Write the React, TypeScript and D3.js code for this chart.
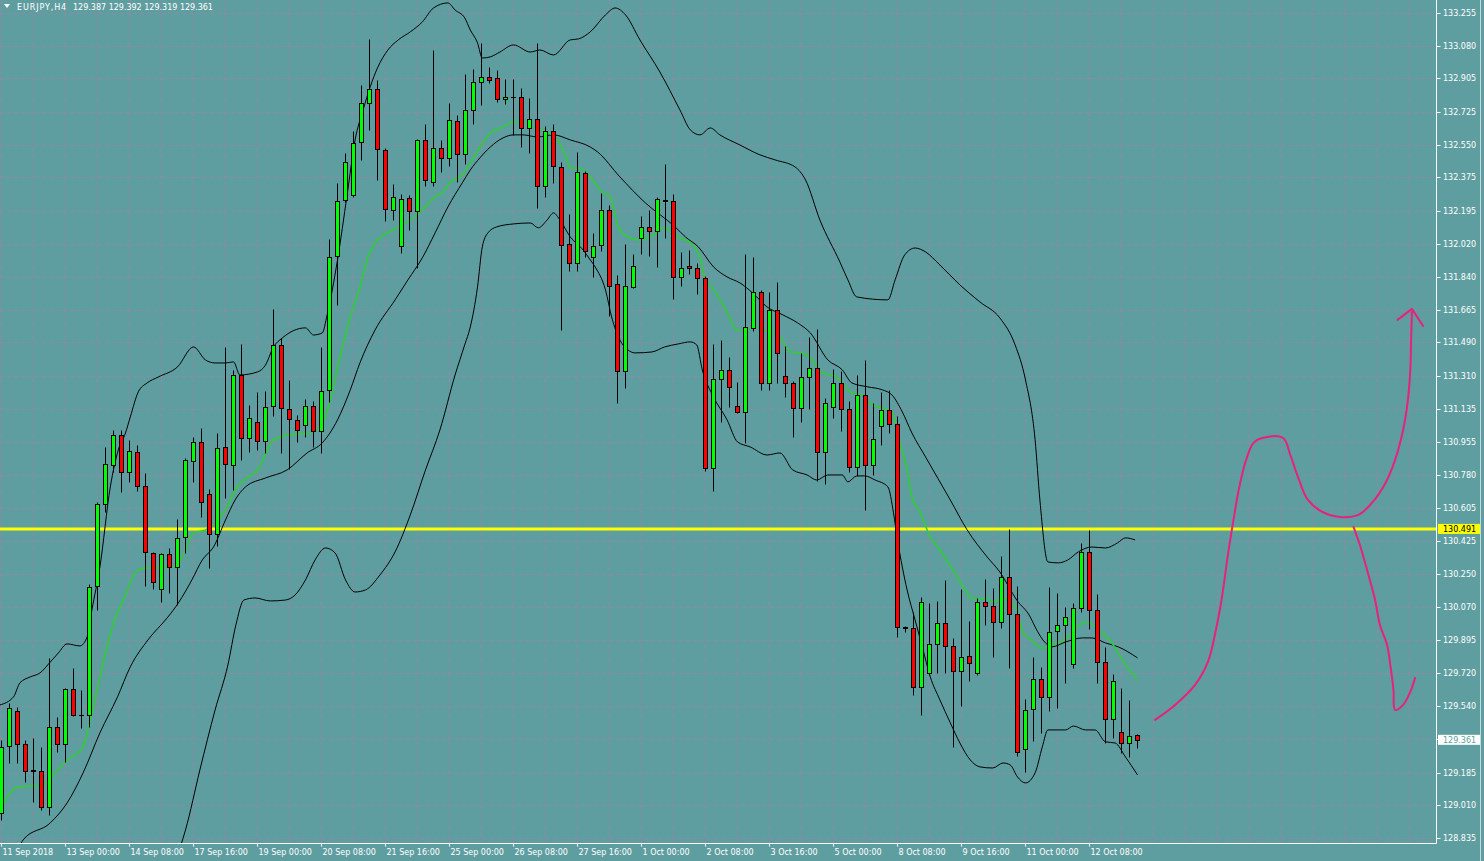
import React from 'react';
import * as d3 from 'd3';

const W = 1484;
const H = 861;
const PLOT_R = 1436.5;
const PLOT_B = 843.5;

const symbolLabel = 'EURJPY,H4';
const headerValues = '129.387 129.392 129.319 129.361';

const priceTicks = [133.255, 133.080, 132.905, 132.725, 132.550, 132.375, 132.195, 132.020, 131.840, 131.665, 131.490, 131.310, 131.135, 130.955, 130.780, 130.605, 130.425, 130.250, 130.070, 129.895, 129.720, 129.540, 129.365, 129.185, 129.010, 128.835];

const dateLabels = ['11 Sep 2018', '13 Sep 00:00', '14 Sep 08:00', '17 Sep 16:00', '19 Sep 00:00', '20 Sep 08:00', '21 Sep 16:00', '25 Sep 00:00', '26 Sep 08:00', '27 Sep 16:00', '1 Oct 00:00', '2 Oct 08:00', '3 Oct 16:00', '5 Oct 00:00', '8 Oct 08:00', '9 Oct 16:00', '11 Oct 00:00', '12 Oct 08:00'];
const dateLabelBars = [0, 8, 16, 24, 32, 40, 48, 56, 64, 72, 80, 88, 96, 104, 112, 120, 128, 136];

const open = [128.969, 129.328, 129.516, 129.339, 129.200, 129.195, 129.001, 129.430, 129.339, 129.634, 129.494, 129.494, 130.185, 130.625, 130.834, 130.994, 130.796, 130.903, 130.721, 130.362, 130.169, 130.357, 130.287, 130.448, 130.855, 130.957, 130.678, 130.464, 130.930, 130.834, 131.316, 130.978, 131.064, 130.962, 131.150, 131.477, 131.134, 131.075, 131.048, 131.150, 131.016, 131.236, 131.954, 132.253, 132.280, 132.564, 132.773, 132.848, 132.521, 132.200, 132.007, 132.264, 132.195, 132.575, 132.350, 132.532, 132.478, 132.677, 132.500, 132.736, 132.886, 132.912, 132.907, 132.795, 132.805, 132.805, 132.639, 132.687, 132.328, 132.623, 132.430, 132.018, 131.916, 132.398, 131.948, 132.012, 132.200, 131.803, 131.337, 131.787, 132.050, 132.109, 132.087, 132.251, 132.248, 131.841, 131.900, 131.889, 131.836, 130.818, 131.294, 131.343, 131.150, 131.118, 131.568, 131.761, 131.273, 131.664, 131.311, 131.273, 131.139, 131.305, 131.353, 130.903, 131.144, 131.273, 131.134, 130.823, 131.209, 130.834, 131.043, 131.128, 131.053, 129.968, 129.960, 129.644, 129.719, 129.875, 129.987, 129.864, 129.730, 129.810, 129.719, 130.100, 130.078, 129.993, 130.234, 130.035, 129.312, 129.527, 129.687, 129.591, 129.944, 129.977, 129.767, 130.068, 130.367, 130.057, 129.778, 129.473, 129.403, 129.344, 129.387];
const high = [129.360, 129.559, 129.537, 129.360, 129.371, 129.323, 129.800, 129.483, 129.639, 129.746, 129.628, 130.196, 130.635, 130.930, 131.021, 131.021, 130.968, 130.941, 130.791, 130.367, 130.362, 130.389, 130.545, 130.871, 130.984, 131.032, 130.705, 131.005, 131.466, 131.343, 131.482, 131.155, 131.225, 131.230, 131.670, 131.514, 131.289, 131.102, 131.187, 131.177, 131.466, 132.045, 132.345, 132.505, 132.623, 132.870, 133.116, 132.896, 132.532, 132.339, 132.286, 132.280, 132.580, 132.661, 133.057, 132.575, 132.773, 132.709, 132.929, 132.955, 133.095, 132.966, 132.950, 132.902, 132.902, 132.853, 132.800, 133.095, 132.650, 132.661, 132.457, 132.178, 132.511, 132.409, 132.077, 132.291, 132.227, 131.852, 132.018, 131.964, 132.168, 132.200, 132.270, 132.446, 132.286, 131.975, 131.986, 131.916, 131.846, 131.482, 131.503, 131.412, 131.278, 131.964, 131.948, 131.771, 131.761, 131.814, 131.471, 131.284, 131.434, 131.519, 131.562, 131.193, 131.348, 131.337, 131.177, 131.316, 131.396, 131.166, 131.225, 131.236, 131.096, 129.971, 130.046, 130.126, 130.094, 130.105, 130.218, 129.907, 130.169, 129.998, 130.121, 130.223, 130.175, 130.346, 130.491, 130.185, 129.580, 129.805, 129.752, 130.180, 130.148, 130.073, 130.094, 130.416, 130.485, 130.143, 129.859, 129.714, 129.639, 129.575, 129.392];
const low = [128.932, 129.237, 129.237, 129.135, 129.028, 128.985, 128.958, 129.296, 129.242, 129.489, 129.425, 129.430, 130.057, 130.582, 130.796, 130.689, 130.743, 130.694, 130.185, 130.169, 130.100, 130.148, 130.084, 130.362, 130.743, 130.555, 130.282, 130.400, 130.657, 130.700, 130.861, 130.903, 130.914, 130.898, 131.096, 130.898, 130.812, 130.957, 130.984, 130.930, 130.898, 131.171, 131.691, 132.243, 132.270, 132.468, 132.629, 132.361, 132.141, 132.146, 131.970, 132.093, 131.889, 132.328, 132.328, 132.403, 132.436, 132.350, 132.446, 132.661, 132.762, 132.880, 132.778, 132.768, 132.602, 132.537, 132.505, 132.211, 132.270, 132.345, 131.557, 131.873, 131.873, 131.948, 131.841, 131.980, 131.632, 131.166, 131.246, 131.782, 131.964, 131.953, 131.894, 132.050, 131.723, 131.793, 131.857, 131.750, 130.802, 130.694, 131.064, 131.144, 131.112, 130.952, 131.552, 131.236, 131.236, 131.273, 131.198, 130.984, 131.064, 131.134, 130.748, 130.732, 131.086, 131.016, 130.796, 130.775, 130.593, 130.780, 130.941, 131.005, 129.912, 129.939, 129.601, 129.494, 129.709, 129.719, 129.719, 129.323, 129.543, 129.676, 129.709, 129.977, 129.805, 129.960, 129.746, 129.275, 129.189, 129.355, 129.398, 129.516, 129.532, 129.666, 129.746, 130.046, 129.955, 129.666, 129.344, 129.371, 129.291, 129.269, 129.319];
const close = [129.323, 129.532, 129.339, 129.195, 129.195, 129.001, 129.430, 129.339, 129.634, 129.494, 129.493, 130.180, 130.625, 130.840, 130.994, 130.796, 130.909, 130.721, 130.367, 130.207, 130.357, 130.287, 130.443, 130.861, 130.957, 130.635, 130.464, 130.925, 130.839, 131.316, 130.978, 131.086, 130.962, 131.144, 131.477, 131.139, 131.080, 131.021, 131.150, 131.016, 131.230, 131.948, 132.248, 132.457, 132.559, 132.773, 132.848, 132.527, 132.205, 132.270, 132.259, 132.195, 132.575, 132.361, 132.532, 132.478, 132.682, 132.500, 132.736, 132.886, 132.912, 132.896, 132.795, 132.805, 132.803, 132.639, 132.687, 132.328, 132.623, 132.436, 132.012, 131.916, 132.403, 131.980, 132.007, 132.200, 131.793, 131.337, 131.793, 131.900, 132.109, 132.087, 132.259, 132.248, 131.841, 131.889, 131.889, 131.836, 130.818, 131.294, 131.343, 131.252, 131.118, 131.573, 131.761, 131.273, 131.664, 131.434, 131.273, 131.139, 131.305, 131.353, 130.903, 131.166, 131.273, 131.134, 130.823, 131.209, 130.834, 130.973, 131.128, 131.053, 129.966, 129.959, 129.644, 130.100, 129.875, 129.987, 129.864, 129.730, 129.805, 129.773, 130.100, 130.078, 129.993, 130.234, 130.035, 129.296, 129.521, 129.687, 129.591, 129.939, 129.977, 130.019, 130.068, 130.367, 130.057, 129.778, 129.473, 129.676, 129.344, 129.382, 129.361];

const levelLine = 130.491;
const bidPrice = 129.361;

// [bar index, price]
const upperBand: [number, number][] = [[-0.2, 129.548], [1.5, 129.591], [2.3, 129.666], [3.6, 129.698], [4.8, 129.719], [6.1, 129.778], [7.1, 129.826], [8.2, 129.875], [9.8, 129.864], [10.7, 129.912], [11.3, 130.057], [12.3, 130.287], [13.6, 130.716], [14.6, 130.914], [15.5, 131.005], [16.1, 131.091], [17.1, 131.225], [18.2, 131.273], [19.6, 131.305], [22.0, 131.359], [24.0, 131.466], [25.5, 131.396], [26.7, 131.380], [28.0, 131.380], [29.0, 131.386], [29.8, 131.316], [32.0, 131.332], [33.0, 131.369], [34.0, 131.466], [35.1, 131.514], [38.0, 131.568], [39.0, 131.530], [40.1, 131.541], [40.7, 131.637], [42.0, 131.932], [43.2, 132.280], [44.2, 132.575], [45.2, 132.736], [47.0, 132.961], [48.3, 133.057], [49.6, 133.111], [51.1, 133.154], [52.6, 133.207], [54.0, 133.282], [55.8, 133.309], [56.7, 133.271], [57.9, 133.229], [58.6, 133.164], [59.5, 133.095], [60.1, 133.014], [61.1, 133.020], [62.3, 133.046], [64.0, 133.084], [66.1, 133.046], [67.3, 133.057], [69.0, 133.030], [71.1, 133.111], [72.1, 133.116], [73.6, 133.154], [75.5, 133.245], [76.7, 133.282], [78.0, 133.245], [79.8, 133.111], [82.3, 132.939], [84.8, 132.736], [86.1, 132.629], [87.3, 132.602], [88.6, 132.639], [89.8, 132.602], [92.3, 132.548], [94.8, 132.495], [96.7, 132.468], [99.2, 132.430], [100.5, 132.361], [102.3, 132.146], [104.8, 131.921], [105.8, 131.825], [106.9, 131.734], [110.8, 131.718], [111.7, 131.825], [112.9, 131.959], [114.2, 131.996], [115.5, 131.975], [117.3, 131.905], [119.8, 131.798], [122.3, 131.707], [124.8, 131.621], [126.7, 131.477], [128.0, 131.289], [129.2, 130.968], [129.8, 130.646], [130.8, 130.314], [132.1, 130.309], [133.3, 130.325], [134.6, 130.368], [136.3, 130.394], [138.0, 130.389], [139.5, 130.416], [140.5, 130.443], [141.7, 130.432]];

const middleBand: [number, number][] = [[1.7, 128.707], [2.7, 128.825], [6.1, 128.916], [8.2, 129.023], [10.2, 129.184], [12.3, 129.398], [14.5, 129.591], [16.1, 129.752], [18.3, 129.896], [20.8, 130.019], [22.1, 130.094], [23.8, 130.218], [25.1, 130.325], [26.5, 130.394], [28.0, 130.539], [29.2, 130.646], [30.5, 130.716], [33.0, 130.764], [35.7, 130.807], [38.2, 130.898], [40.1, 130.952], [42.0, 131.075], [43.6, 131.236], [44.8, 131.380], [46.7, 131.557], [49.2, 131.718], [50.8, 131.825], [52.6, 131.943], [54.2, 132.077], [55.8, 132.216], [57.6, 132.345], [58.6, 132.414], [59.8, 132.479], [61.1, 132.537], [62.7, 132.586], [64.0, 132.602], [65.2, 132.602], [67.0, 132.591], [69.0, 132.602], [71.1, 132.575], [73.6, 132.537], [74.5, 132.511], [77.3, 132.377], [80.5, 132.237], [84.2, 132.109], [85.5, 132.055], [87.1, 132.002], [89.0, 131.895], [90.7, 131.841], [92.3, 131.809], [93.9, 131.755], [95.7, 131.680], [97.7, 131.637], [99.5, 131.595], [101.1, 131.541], [103.3, 131.396], [105.1, 131.343], [106.3, 131.273], [108.3, 131.252], [110.1, 131.236], [111.3, 131.209], [112.6, 131.118], [113.8, 131.005], [115.5, 130.877], [118.6, 130.646], [120.7, 130.486], [123.2, 130.341], [124.8, 130.260], [126.9, 130.110], [128.6, 130.019], [129.2, 129.966], [130.5, 129.880], [131.3, 129.859], [133.0, 129.885], [135.1, 129.907], [136.3, 129.907], [138.0, 129.880], [139.6, 129.859], [142.0, 129.800]];

const lowerBand: [number, number][] = [[21.7, 128.707], [23.0, 128.878], [24.8, 129.200], [26.7, 129.521], [28.3, 129.762], [29.3, 129.977], [30.3, 130.110], [31.7, 130.121], [33.6, 130.105], [35.5, 130.110], [36.7, 130.137], [38.0, 130.218], [39.2, 130.325], [40.5, 130.389], [41.7, 130.362], [43.0, 130.218], [44.2, 130.153], [45.5, 130.164], [47.3, 130.244], [49.2, 130.368], [51.1, 130.566], [53.0, 130.807], [54.8, 131.021], [56.7, 131.316], [57.9, 131.477], [58.6, 131.573], [59.5, 131.787], [60.1, 132.002], [60.8, 132.077], [61.9, 132.109], [64.0, 132.125], [66.1, 132.130], [67.1, 132.104], [68.2, 132.146], [69.0, 132.184], [69.8, 132.146], [71.1, 132.055], [72.7, 131.986], [73.6, 131.932], [74.2, 131.895], [75.5, 131.771], [76.3, 131.621], [77.3, 131.503], [78.3, 131.450], [79.2, 131.434], [81.3, 131.439], [82.9, 131.466], [84.6, 131.482], [86.1, 131.493], [86.9, 131.477], [87.6, 131.343], [89.0, 131.198], [90.7, 131.075], [92.0, 130.957], [93.6, 130.930], [95.7, 130.887], [97.3, 130.898], [98.9, 130.807], [100.7, 130.780], [101.9, 130.753], [103.3, 130.780], [105.1, 130.780], [105.8, 130.743], [106.9, 130.775], [107.9, 130.775], [109.2, 130.753], [110.8, 130.716], [111.5, 130.577], [112.0, 130.432], [112.6, 130.287], [113.2, 130.164], [114.2, 130.003], [115.1, 129.859], [116.1, 129.698], [117.3, 129.575], [118.6, 129.452], [119.8, 129.344], [121.1, 129.253], [122.3, 129.216], [123.9, 129.210], [125.2, 129.237], [126.1, 129.226], [127.0, 129.162], [128.0, 129.130], [129.2, 129.184], [130.1, 129.323], [130.8, 129.414], [133.0, 129.414], [134.0, 129.435], [135.5, 129.414], [136.7, 129.414], [138.0, 129.350], [139.2, 129.344], [140.5, 129.269], [142.0, 129.173]];

const greenMA: [number, number][] = [[-0.2, 128.985], [2.0, 129.108], [5.2, 129.119], [6.7, 129.184], [8.2, 129.253], [10.1, 129.318], [11.1, 129.468], [12.3, 129.698], [14.0, 129.987], [15.5, 130.137], [17.0, 130.271], [18.3, 130.282], [20.1, 130.287], [21.7, 130.287], [22.6, 130.341], [24.0, 130.469], [25.5, 130.485], [27.1, 130.539], [28.2, 130.609], [29.2, 130.700], [30.5, 130.759], [32.0, 130.807], [34.0, 130.968], [35.7, 130.994], [38.2, 131.005], [39.8, 131.037], [41.1, 131.182], [42.3, 131.412], [43.6, 131.627], [44.8, 131.787], [45.8, 131.948], [47.0, 132.039], [48.3, 132.077], [49.6, 132.109], [51.1, 132.146], [52.6, 132.200], [54.0, 132.264], [55.2, 132.296], [56.1, 132.350], [57.6, 132.387], [58.6, 132.452], [59.8, 132.537], [61.1, 132.612], [62.7, 132.645], [64.0, 132.671], [65.2, 132.671], [66.3, 132.645], [68.2, 132.618], [69.5, 132.575], [70.7, 132.468], [71.1, 132.425], [72.3, 132.425], [73.6, 132.377], [75.1, 132.296], [76.1, 132.270], [77.1, 132.109], [78.3, 132.055], [79.6, 132.039], [81.3, 132.061], [82.9, 132.104], [83.8, 132.077], [84.6, 132.055], [86.3, 132.018], [87.3, 131.948], [87.9, 131.841], [88.9, 131.782], [90.7, 131.653], [91.9, 131.557], [93.2, 131.557], [93.9, 131.578], [95.2, 131.557], [97.0, 131.536], [98.6, 131.439], [99.8, 131.434], [101.1, 131.412], [102.0, 131.353], [103.0, 131.321], [104.0, 131.316], [105.5, 131.252], [106.3, 131.219], [107.6, 131.209], [108.8, 131.155], [110.1, 131.139], [111.3, 131.118], [112.3, 130.952], [113.2, 130.807], [113.8, 130.662], [114.8, 130.582], [116.1, 130.448], [117.3, 130.378], [118.9, 130.271], [120.7, 130.148], [121.1, 130.121], [123.2, 130.116], [123.9, 130.100], [125.2, 130.121], [126.1, 130.100], [126.9, 130.057], [127.7, 129.934], [128.6, 129.902], [130.1, 129.853], [131.3, 129.869], [133.0, 129.902], [134.6, 129.971], [135.8, 129.993], [136.7, 129.966], [137.6, 129.934], [138.8, 129.880], [140.1, 129.789], [142.0, 129.682]];

// hand-drawn annotation (bar index, price)
const pinkUpStroke: [number, number][] = [[144.2, 129.468], [146.7, 129.548], [149.2, 129.655], [150.8, 129.778], [151.8, 129.950], [152.6, 130.137], [153.3, 130.352], [154.0, 130.539], [154.6, 130.689], [155.5, 130.850], [156.5, 130.952], [157.6, 130.978], [160.2, 130.978], [161.1, 130.887], [162.1, 130.764], [163.3, 130.646], [165.1, 130.582], [167.3, 130.555], [169.6, 130.566], [171.3, 130.630], [173.0, 130.737], [174.2, 130.861], [175.2, 131.021], [175.8, 131.182], [176.1, 131.343], [176.2, 131.503], [176.3, 131.653]];
const pinkUpArrow: [number, number][] = [[174.5, 131.611], [176.3, 131.670], [177.7, 131.578]];
const pinkDownStroke: [number, number][] = [[169.0, 130.502], [169.8, 130.405], [170.7, 130.271], [171.7, 130.110], [172.3, 129.977], [173.2, 129.869], [173.6, 129.762], [174.0, 129.628], [174.2, 129.521], [175.2, 129.548], [176.1, 129.618], [176.7, 129.693]];

const BG = '#5F9EA0';
const GRID = '#8c8ba2';
const FONT = 'DejaVu Sans';

export default function App() {
  const x = d3.scaleLinear().domain([0, 142]).range([1.5, 1137.5]);
  const y = d3.scaleLinear().domain([128.835, 133.255]).range([838, 13]);

  const bandLine = d3
    .line<[number, number]>()
    .x((d) => x(d[0]))
    .y((d) => y(d[1]))
    .curve(d3.curveMonotoneX);
  const freeLine = d3
    .line<[number, number]>()
    .x((d) => x(d[0]))
    .y((d) => y(d[1]))
    .curve(d3.curveCatmullRom.alpha(0.5));
  const straight = d3
    .line<[number, number]>()
    .x((d) => x(d[0]))
    .y((d) => y(d[1]));

  const vGridIdx = d3.range(0, 180, 4).filter((i) => x(i) < PLOT_R);
  const crisp = (v: number) => Math.round(v) + 0.5;

  const candles = open.map((o, i) => {
    const c = close[i];
    const cx = x(i);
    const yTop = crisp(y(Math.max(o, c)));
    const yBot = crisp(y(Math.min(o, c)));
    const yH = crisp(y(high[i]));
    const yL = crisp(y(low[i]));
    const bull = c >= o;
    return (
      <g key={i}>
        <line x1={cx} x2={cx} y1={yH} y2={yL} stroke="#000" strokeWidth={1} />
        {yBot - yTop < 1 ? (
          <line x1={cx - 2.5} x2={cx + 2.5} y1={yTop} y2={yTop} stroke="#000" strokeWidth={1} />
        ) : (
          <rect
            x={cx - 2}
            y={yTop}
            width={4}
            height={yBot - yTop}
            fill={bull ? '#00FF00' : '#FF0000'}
            stroke="#000"
            strokeWidth={1}
          />
        )}
      </g>
    );
  });

  return (
    <svg
      width={W}
      height={H}
      style={{ position: 'absolute', left: 0, top: 0, display: 'block' }}
      xmlns="http://www.w3.org/2000/svg"
    >
      <defs>
        <clipPath id="plotClip">
          <rect x={0} y={0} width={PLOT_R} height={PLOT_B} />
        </clipPath>
      </defs>
      <rect x={0} y={0} width={W} height={H} fill={BG} />

      {/* grid */}
      <g clipPath="url(#plotClip)">
        {priceTicks.map((t) => (
          <line
            key={'h' + t}
            x1={0}
            x2={PLOT_R}
            y1={crisp(y(t))}
            y2={crisp(y(t))}
            stroke={GRID}
            strokeWidth={1}
            strokeDasharray="4,3"
          />
        ))}
        {vGridIdx.map((i) => (
          <line
            key={'v' + i}
            x1={x(i)}
            x2={x(i)}
            y1={0}
            y2={PLOT_B}
            stroke={GRID}
            strokeWidth={1}
            strokeDasharray="4,3"
          />
        ))}
      </g>

      <g clipPath="url(#plotClip)">
        {/* horizontal level */}
        <line x1={0} x2={PLOT_R} y1={y(levelLine)} y2={y(levelLine)} stroke="#FFFF00" strokeWidth={3} />

        {/* bollinger bands */}
        <path d={bandLine(upperBand) || ''} fill="none" stroke="#000" strokeWidth={1} />
        <path d={bandLine(middleBand) || ''} fill="none" stroke="#000" strokeWidth={1} />
        <path d={bandLine(lowerBand) || ''} fill="none" stroke="#000" strokeWidth={1} />
        <path d={bandLine(greenMA) || ''} fill="none" stroke="#2fcf2f" strokeWidth={1.5} />

        {candles}

        {/* annotation */}
        <path d={freeLine(pinkUpStroke) || ''} fill="none" stroke="#E8207E" strokeWidth={2} strokeLinecap="round" strokeLinejoin="round" />
        <path d={straight(pinkUpArrow) || ''} fill="none" stroke="#E8207E" strokeWidth={2} strokeLinecap="round" strokeLinejoin="round" />
        <path d={freeLine(pinkDownStroke) || ''} fill="none" stroke="#E8207E" strokeWidth={2} strokeLinecap="round" strokeLinejoin="round" />
      </g>

      {/* axes */}
      <line x1={PLOT_R} x2={PLOT_R} y1={0} y2={PLOT_B} stroke="#ffffff" strokeWidth={1} />
      <line x1={0} x2={PLOT_R} y1={PLOT_B} y2={PLOT_B} stroke="#ffffff" strokeWidth={1} />
      <line x1={1480.5} x2={1480.5} y1={0} y2={H} stroke="#c8d8d8" strokeWidth={1} />

      {priceTicks.map((t) => (
        <g key={'l' + t}>
          <line x1={PLOT_R} x2={PLOT_R + 4} y1={crisp(y(t))} y2={crisp(y(t))} stroke="#ffffff" strokeWidth={1} />
          <text x={1443} y={y(t) + 3} fill="#ffffff" fontFamily={FONT} fontSize={8}>
            {t.toFixed(3)}
          </text>
        </g>
      ))}

      {/* level price box */}
      <rect x={1438} y={y(levelLine) - 5} width={42} height={10} fill="#FFFF00" />
      <text x={1443} y={y(levelLine) + 3} fill="#000" fontFamily={FONT} fontSize={8}>
        {levelLine.toFixed(3)}
      </text>
      {/* bid box */}
      <rect x={1438} y={y(bidPrice) - 5} width={42} height={10} fill="#ffffff" />
      <text x={1443} y={y(bidPrice) + 3} fill={BG} fontFamily={FONT} fontSize={8}>
        {bidPrice.toFixed(3)}
      </text>

      {dateLabels.map((lab, k) => (
        <g key={'d' + k}>
          <line x1={x(dateLabelBars[k])} x2={x(dateLabelBars[k])} y1={PLOT_B} y2={PLOT_B + 3} stroke="#ffffff" strokeWidth={1} />
          <text x={x(dateLabelBars[k]) + 1} y={855} fill="#ffffff" fontFamily={FONT} fontSize={8}>
            {lab}
          </text>
        </g>
      ))}

      {/* header */}
      <path d="M4,4 L10,4 L7,8 Z" fill="#ffffff" />
      <text x={17} y={10} fill="#ffffff" fontFamily={FONT} fontSize={8} letterSpacing={0.9}>
        {symbolLabel}
      </text>
      <text x={73} y={10} fill="#ffffff" fontFamily={FONT} fontSize={8}>
        {headerValues}
      </text>
    </svg>
  );
}
